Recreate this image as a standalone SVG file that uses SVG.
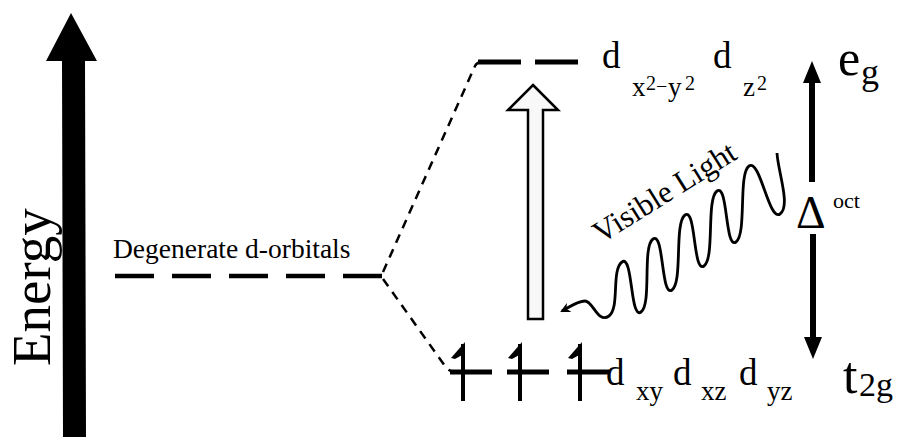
<svg xmlns="http://www.w3.org/2000/svg" width="899" height="437" viewBox="0 0 899 437">
<style>
.t{font-family:"Liberation Serif","Times New Roman",serif;fill:#000}
.lvl{stroke:#000;fill:none}
.dash{stroke:#000;stroke-width:2.5;fill:none;stroke-dasharray:9 7}
</style>
<defs>
<marker id="ah" viewBox="0 0 22 18" refX="0" refY="9" markerWidth="22" markerHeight="18" markerUnits="userSpaceOnUse" orient="auto"><path d="M0,0 L22,9 L0,18 z" fill="#000"/></marker>
<marker id="wh" viewBox="0 0 10 10" refX="8" refY="5" markerWidth="10" markerHeight="10" markerUnits="userSpaceOnUse" orient="auto-start-reverse"><path d="M0,0 L10,5 L0,10 L3,5 z" fill="#000"/></marker>
<g id="harpoon">
<line x1="-13" y1="0" x2="29" y2="0" stroke="#000" stroke-width="5"/>
<line x1="0" y1="-28" x2="0" y2="29" stroke="#000" stroke-width="4"/>
<polygon points="2,-30 -12,-14 -8,-13 1,-18" fill="#000"/>
</g>
</defs>

<g id="energy-axis">
<polygon points="71,13 97,61 85,61 86,437 63,437 62,61 46,61" fill="#000"/>
<text class="t" x="50" y="366" font-size="55" transform="rotate(-90 50 366)">Energy</text>
</g>

<g id="degenerate">
<line class="lvl" x1="115" y1="276" x2="382" y2="276" stroke-width="4.5" stroke-dasharray="39 18"/>
<text class="t" x="113" y="258" font-size="27.5">Degenerate d-orbitals</text>
</g>

<g id="eg-level">
<line class="lvl" x1="478" y1="62" x2="578" y2="62" stroke-width="5" stroke-dasharray="43 14"/>
<text class="t" font-size="37" x="602" y="68">d</text>
<text class="t" font-size="27" x="632" y="96">x</text>
<text class="t" font-size="20" x="646" y="90">2</text>
<text class="t" font-size="20" x="656" y="93">−</text>
<text class="t" font-size="27" x="668" y="96">y</text>
<text class="t" font-size="20" x="685" y="90">2</text>
<text class="t" font-size="37" x="713" y="68">d</text>
<text class="t" font-size="27" x="743" y="96">z</text>
<text class="t" font-size="20" x="757" y="90">2</text>
<text class="t" font-size="50" x="838" y="75">e</text>
<text class="t" font-size="36" x="861" y="84">g</text>
</g>

<g id="t2g-level">
<use href="#harpoon" x="463" y="372"/>
<use href="#harpoon" x="520" y="372"/>
<use href="#harpoon" x="580" y="372"/>
<text class="t" font-size="37" x="606" y="385">d</text>
<text class="t" font-size="27" x="636" y="400">xy</text>
<text class="t" font-size="37" x="673" y="385">d</text>
<text class="t" font-size="27" x="701" y="400">xz</text>
<text class="t" font-size="37" x="739" y="385">d</text>
<text class="t" font-size="27" x="767" y="400">yz</text>
<text class="t" font-size="52" x="843" y="393">t</text>
<text class="t" font-size="34" x="859" y="396">2g</text>
</g>

<g id="excitation-arrow">
<polygon points="533,85 558,110 543,110 543,319 528,319 528,110 508,110" fill="#f8f8f8" stroke="#000" stroke-width="2.5" stroke-linejoin="miter"/>
</g>

<g id="visible-light">
<path d="M562,311 C570,307 577,301 585,301 C593,301 598,324 609,316 C620,308 611,270 622,262 C633,254 630,320 641,312 C652,304 642,247 653,239 C664,231 661,298 672,290 C683,282 674,223 685,215 C696,207 693,274 704,266 C715,258 706,199 717,191 C728,183 725,250 736,242 C747,234 738,174 749,166 C760,158 769,222 780,214 C791,206 778,172 777,153" fill="none" stroke="#000" stroke-width="2.8" marker-start="url(#wh)"/>
<text class="t" font-size="31" x="601" y="244" transform="rotate(-32 601 244)">Visible Light</text>
</g>

<g id="delta-oct">
<line x1="812" y1="182" x2="812" y2="83" stroke="#000" stroke-width="6" marker-end="url(#ah)"/>
<line x1="813" y1="234" x2="813" y2="337" stroke="#000" stroke-width="6" marker-end="url(#ah)"/>
<text class="t" font-size="46" x="796" y="228">Δ</text>
<text class="t" font-size="22" x="833" y="208">oct</text>
</g>

<g id="connectors">
<path class="dash" d="M383,272 L475,66 Q477,62 482,62"/>
<path class="dash" d="M383,279 L445,366 Q448,371 454,372"/>
</g>
</svg>
